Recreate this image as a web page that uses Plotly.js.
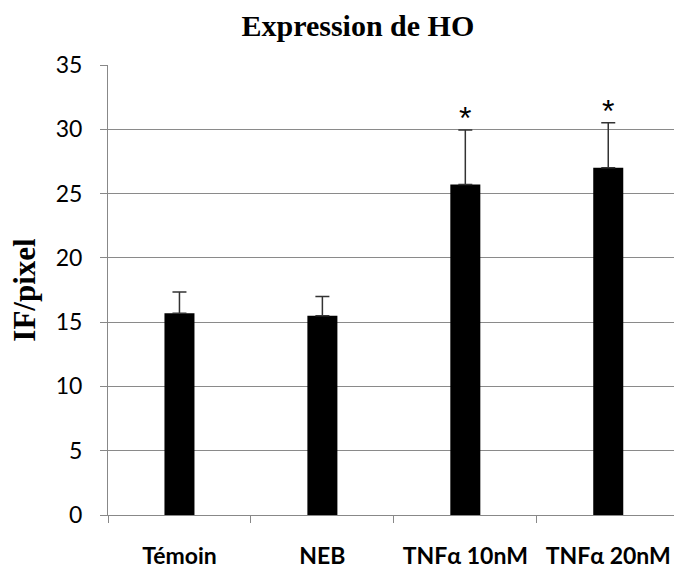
<!DOCTYPE html>
<html><head><meta charset="utf-8">
<script src="https://cdn.plot.ly/plotly-3.0.1.min.js"></script>
<style>body{margin:0;padding:0;background:#fff}#chart{width:674px;height:571px}</style>
</head><body><div id="chart"></div>
<script>
const categories = ["Témoin", "NEB", "TNFα 10nM", "TNFα 20nM"];
const values = [15.7, 15.5, 25.7, 27.0];
const errors = [1.65, 1.5, 4.25, 3.5];
const significant = ["", "", "*", "*"];
const yTicks = [0, 5, 10, 15, 20, 25, 30, 35];

const trace = {
  type: "bar",
  x: categories,
  y: values,
  width: 0.21,
  marker: {color: "#000000", line: {width: 0}},
  error_y: {type: "data", symmetric: false, array: errors, arrayminus: errors.map(() => 0),
            color: "#333333", thickness: 1.5, width: 7},
  hoverinfo: "none"
};

const annotations = categories.map((c, i) => ({
  x: c, y: values[i] + errors[i], text: significant[i], showarrow: false,
  yanchor: "bottom", yshift: -8, font: {family: "Liberation Sans, Arial", size: 32, color: "#000"}
})).filter(a => a.text);

const layout = {
  width: 674, height: 571,
  margin: {l: 108, r: 0, t: 65, b: 56},
  paper_bgcolor: "#fff", plot_bgcolor: "#fff",
  showlegend: false,
  title: {text: "<b>Expression de HO</b>", x: 0.531, xanchor: "center", y: 0.955, yanchor: "middle",
          font: {family: "Liberation Serif, Times New Roman", size: 30, color: "#000"}},
  xaxis: {
    type: "category", range: [-0.5, 3.46],
    showline: true, linecolor: "#888", linewidth: 1,
    ticks: "outside", tickson: "boundaries", ticklen: 7, tickcolor: "#888",
    showgrid: false, ticklabelstandoff: 20,
    tickfont: {family: "Lato, Noto Sans, Arial", size: 23, weight: 700, color: "#000"}
  },
  yaxis: {
    range: [0, 35], tickvals: yTicks, ticktext: yTicks.map(String),
    showline: true, linecolor: "#888", linewidth: 1,
    ticks: "outside", ticklen: 7, tickcolor: "#888",
    showgrid: true, gridcolor: "#8a8a8a", gridwidth: 1, zeroline: false,
    ticklabelstandoff: 13,
    tickfont: {family: "Lato, Noto Sans, Arial", size: 23, color: "#000"},
    title: {text: "<b>IF/pixel</b>", standoff: 10,
            font: {family: "Liberation Serif, Times New Roman", size: 31, color: "#000"}}
  },
  annotations: annotations
};

Plotly.newPlot("chart", [trace], layout, {displayModeBar: false, staticPlot: true});
</script></body></html>
